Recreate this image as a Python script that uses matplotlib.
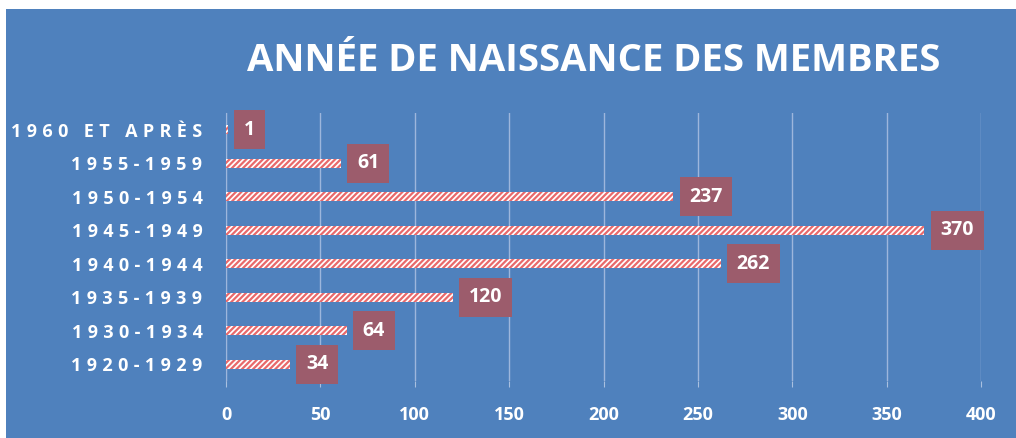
import matplotlib.pyplot as plt
import numpy as np

# donnees
categories = ["1920-1929", "1930-1934", "1935-1939", "1940-1944",
              "1945-1949", "1950-1954", "1955-1959", "1960 ET APRÈS"]
membres = [34, 64, 120, 262, 370, 237, 61, 1]
ticks_x = [0, 50, 100, 150, 200, 250, 300, 350, 400]

fond = "#4F81BD"
boite = "#9C5C6C"
hachure = "#E8696B"

plt.rcParams['hatch.linewidth'] = 1.6
plt.rcParams['hatch.color'] = hachure

fig = plt.figure(figsize=(10.16, 4.38), dpi=100)
fig.patch.set_facecolor("white")
# fond bleu (petite bande blanche en haut et a gauche)
fig.add_artist(plt.Rectangle((6/1016, 0), 1, 1 - 9/438, transform=fig.transFigure,
                             facecolor=fond, edgecolor="none", zorder=0))

ax = fig.add_axes([226/1016, 1 - 381/438, 755/1016, 268/438])
ax.set_facecolor("none")

y = np.arange(len(categories))
barres = ax.barh(y, membres, height=0.27, color="white", edgecolor=hachure,
                 linewidth=0, hatch="//////", zorder=3)

# etiquettes dans les boites
for yi, v in zip(y, membres):
    ax.annotate(str(v), (v, yi), xytext=(16, 0), textcoords="offset pixels",
                ha="left", va="center", color="white", fontsize=14,
                fontweight="bold", family="Open Sans", zorder=5,
                bbox=dict(boxstyle="square,pad=0.5", facecolor=boite,
                          edgecolor="none"))

ax.set_xlim(0, 400)
ax.set_ylim(-0.5, len(categories) - 0.5)
ax.set_xticks(ticks_x)
ax.set_xticklabels([str(t) for t in ticks_x], color="white", fontsize=13,
                   fontweight="bold", family="Open Sans")
ax.set_yticks(y)
# libelles espaces comme dans l'original
espaces = ["\u2009\u200a".join(list(c)) for c in categories]
ax.set_yticklabels(espaces, color="white", fontsize=13, fontweight="bold",
                   family=["Open Sans", "DejaVu Sans"])
ax.tick_params(axis="y", length=0, pad=17)
ax.tick_params(axis="x", length=4, color="#A9C0E0", pad=14)

ax.grid(axis="x", color="#9DB6DC", linewidth=1, zorder=0)
for s in ["top", "right", "bottom"]:
    ax.spines[s].set_visible(False)
ax.spines["left"].set_color("#9DB6DC")

fig.text(594/1016, 1 - 61/438, "ANNÉE DE NAISSANCE DES MEMBRES", ha="center",
         va="center", color="white", fontsize=27.5, fontweight="bold",
         family="Open Sans")

fig.savefig("out.png", dpi=100, facecolor=fig.get_facecolor())
